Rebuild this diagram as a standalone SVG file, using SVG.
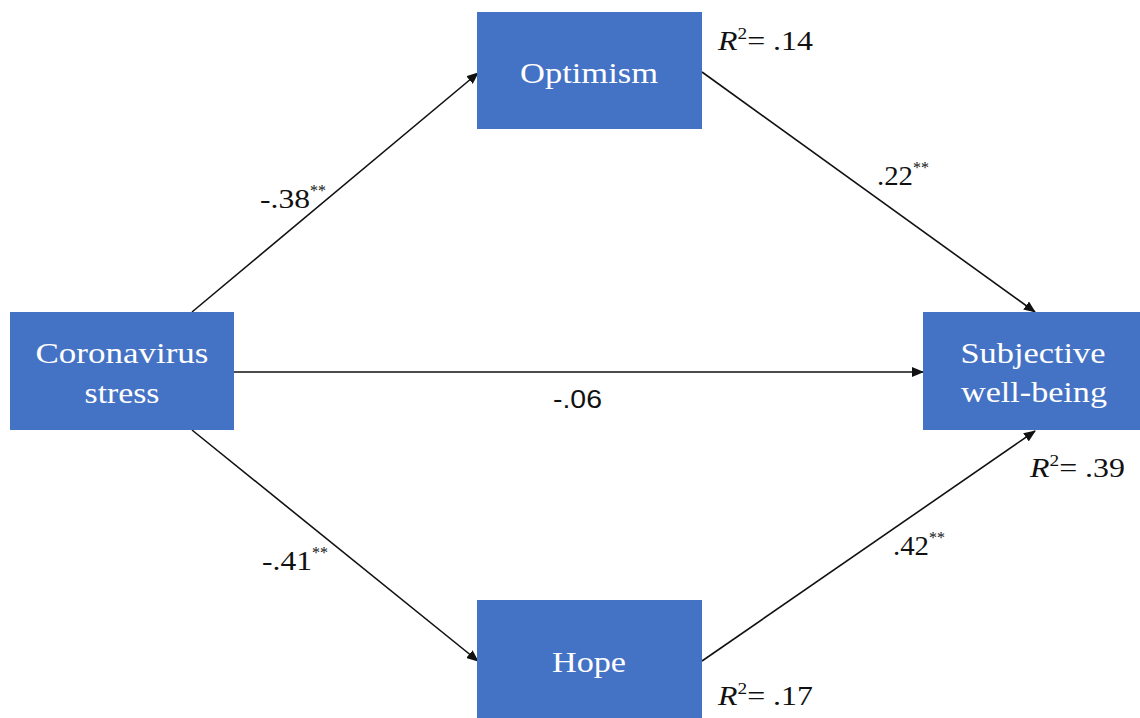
<svg xmlns="http://www.w3.org/2000/svg" width="1140" height="718" viewBox="0 0 1140 718">
<style>
.box{fill:#4472C4;}
.serif{font-family:'Liberation Serif','DejaVu Serif',serif;}
.nl{font-size:30px;fill:#fff;text-anchor:middle;}
.el{font-size:27px;fill:#111;}
.st{font-size:16px;fill:#111;}
.r2{font-size:28px;fill:#111;}
.sans{font-family:'Liberation Sans',Arial,sans-serif;font-size:26px;fill:#111;}
.cn{stroke:#111;stroke-width:1.6;fill:none;marker-end:url(#ah);}
</style>
<defs>
<marker id="ah" markerWidth="12" markerHeight="10" refX="11" refY="5" orient="auto" markerUnits="userSpaceOnUse">
<path d="M0,0 L12,5 L0,10 Z" fill="#111"/>
</marker>
</defs>
<rect width="1140" height="718" fill="#fff"/>
<g id="connectors">
<line class="cn" x1="192" y1="312" x2="478" y2="73"/>
<line class="cn" x1="702" y1="72" x2="1035" y2="312"/>
<line class="cn" x1="234" y1="372" x2="923" y2="372"/>
<line class="cn" x1="192" y1="430" x2="478" y2="661"/>
<line class="cn" x1="702" y1="661" x2="1035" y2="431"/>
</g>
<g id="node-optimism">
<rect class="box" x="477" y="12" width="225" height="117"/>
<text class="serif nl" x="589" y="83" textLength="138" lengthAdjust="spacingAndGlyphs">Optimism</text>
</g>
<g id="node-stress">
<rect class="box" x="10" y="312" width="224" height="118"/>
<text class="serif nl" x="122" y="363" textLength="173" lengthAdjust="spacingAndGlyphs">Coronavirus</text>
<text class="serif nl" x="122" y="403" textLength="75" lengthAdjust="spacingAndGlyphs">stress</text>
</g>
<g id="node-swb">
<rect class="box" x="923" y="312" width="217" height="118"/>
<text class="serif nl" x="1033" y="363" textLength="145" lengthAdjust="spacingAndGlyphs">Subjective</text>
<text class="serif nl" x="1034" y="402" textLength="146" lengthAdjust="spacingAndGlyphs">well-being</text>
</g>
<g id="node-hope">
<rect class="box" x="477" y="600" width="225" height="118"/>
<text class="serif nl" x="589" y="672" textLength="74" lengthAdjust="spacingAndGlyphs">Hope</text>
</g>
<g id="edge-labels">
<text class="serif el" x="260" y="208" textLength="50" lengthAdjust="spacingAndGlyphs">-.38</text>
<text class="serif st" x="310" y="196">**</text>
<text class="serif el" x="877" y="185" textLength="36" lengthAdjust="spacingAndGlyphs">.22</text>
<text class="serif st" x="913" y="173">**</text>
<text class="sans" x="553" y="408" textLength="49" lengthAdjust="spacingAndGlyphs">-.06</text>
<text class="serif el" x="262" y="570" textLength="50" lengthAdjust="spacingAndGlyphs">-.41</text>
<text class="serif st" x="312" y="558">**</text>
<text class="serif el" x="893" y="555" textLength="36" lengthAdjust="spacingAndGlyphs">.42</text>
<text class="serif st" x="929" y="543">**</text>
</g>
<g id="r2-labels">
<text class="serif r2" x="718" y="50" textLength="95" lengthAdjust="spacingAndGlyphs"><tspan font-style="italic">R</tspan><tspan font-size="17" dy="-11">2</tspan><tspan dy="11">= .14</tspan></text>
<text class="serif r2" x="1030" y="477" textLength="95" lengthAdjust="spacingAndGlyphs"><tspan font-style="italic">R</tspan><tspan font-size="17" dy="-11">2</tspan><tspan dy="11">= .39</tspan></text>
<text class="serif r2" x="718" y="705" textLength="95" lengthAdjust="spacingAndGlyphs"><tspan font-style="italic">R</tspan><tspan font-size="17" dy="-11">2</tspan><tspan dy="11">= .17</tspan></text>
</g>
</svg>
